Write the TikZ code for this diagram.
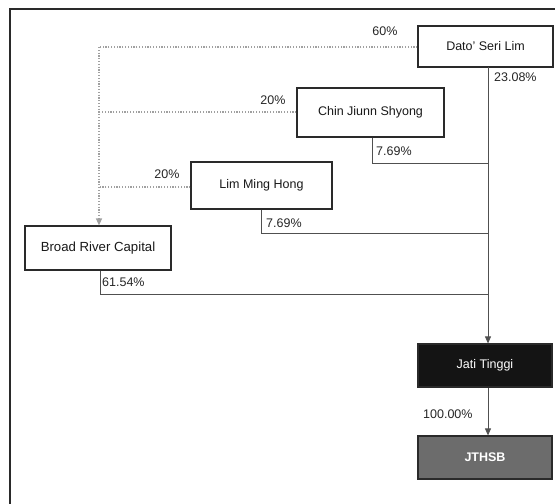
\documentclass[tikz,border=0pt]{standalone}
\usepackage{fontspec}
\setmainfont{Liberation Sans}
\usetikzlibrary{arrows.meta}
\definecolor{boxline}{HTML}{2A2A2A}
\definecolor{conn}{HTML}{505050}
\definecolor{dots}{HTML}{A0A0A0}
\definecolor{jati}{HTML}{141414}
\definecolor{jthsb}{HTML}{6C6C6C}
\tikzset{
  holder/.style={draw=boxline, line width=1.2pt, fill=white, inner sep=0pt,
    font=\fontsize{12.5}{14}\selectfont, text=black!90},
  pct/.style={font=\fontsize{12.5}{14}\selectfont, text=black!85, inner sep=0pt},
  own/.style={draw=conn, line width=0.8pt},
  indirect/.style={draw=dots, line width=1.2pt, dash pattern=on 1.2pt off 1.6pt},
  tip/.style={-{Triangle[length=7pt,width=6pt]}},
}
\begin{document}
\begin{tikzpicture}[x=1pt,y=-1pt]
\useasboundingbox (0,0) rectangle (555,504);
\clip (0,0) rectangle (555,504);
\draw[boxline, line width=1.6pt] (10,520) -- (10,9) -- (570,9);

\node[holder, minimum width=135pt, minimum height=41pt] (dato) at (485.5,46.5) {Dato' Seri Lim};
\node[holder, minimum width=147pt, minimum height=49pt] (chin) at (370.5,112.5) {Chin Jiunn Shyong};
\node[holder, minimum width=141pt, minimum height=47pt] (lmh) at (261.5,185.5) {Lim Ming Hong};
\node[holder, minimum width=146pt, minimum height=44pt, font=\fontsize{13.2}{15}\selectfont] (brc) at (98,248) {Broad River Capital};
\node[holder, fill=jati, text=white, minimum width=134pt, minimum height=43pt] (jt) at (485,365.5) {Jati Tinggi};
\node[holder, fill=jthsb, text=white, minimum width=134pt, minimum height=43pt, font=\fontsize{12.5}{14}\selectfont\bfseries] (js) at (485,457.5) {JTHSB};

% indirect (dotted) holdings into Broad River Capital
\coordinate (c1) at (99,47);
\draw[indirect] (dato.west |- 0,47) -- (c1);
\draw[indirect, tip] (c1) -- (brc.north -| c1);
\coordinate (c2) at (99,112);
\draw[indirect] (chin.west |- 0,112) -- (c2);
\coordinate (c3) at (99,187);
\draw[indirect] (lmh.west |- 0,187) -- (c3);

\node[pct] (p60) at (385,31) {60\%};
\node[pct] (p20a) at (273,100) {20\%};
\node[pct] (p20b) at (167,174) {20\%};

% direct holdings into Jati Tinggi
\coordinate (m0) at (488,67);
\draw[own, tip] (m0) -- (jt.north -| m0);
\coordinate (k1) at (488,163);
\draw[own] (chin.south -| 372,0) -- (372,163) -- (k1);
\coordinate (k2) at (488,233);
\draw[own] (lmh.south -| 261,0) -- (261,233) -- (k2);
\coordinate (k3) at (488,294);
\draw[own] (brc.south -| 100,0) -- (100,294) -- (k3);
\draw[own, tip] (jt.south -| m0) -- (js.north -| m0);

\node[pct, anchor=west] (p2308) at (494,77) {23.08\%};
\node[pct, anchor=west] (p769a) at (376,151) {7.69\%};
\node[pct, anchor=west] (p769b) at (266,223) {7.69\%};
\node[pct, anchor=west] (p6154) at (102,282) {61.54\%};
\node[pct, anchor=west] (p100) at (423,414) {100.00\%};
\end{tikzpicture}
\end{document}
